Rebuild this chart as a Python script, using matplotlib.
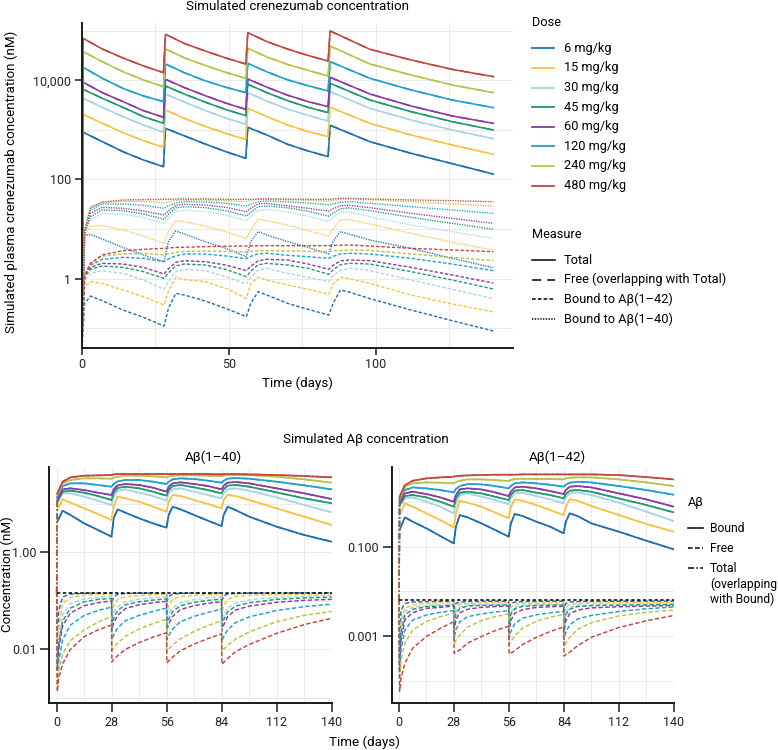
import numpy as np
import matplotlib
matplotlib.use("Agg")
import matplotlib.pyplot as plt
from matplotlib.lines import Line2D
from matplotlib.ticker import FixedLocator, FixedFormatter, NullFormatter

plt.rcParams['font.family'] = ['Roboto', 'DejaVu Sans']

# ---------------- data (log10 of nM) ----------------
doses = ["6 mg/kg", "15 mg/kg", "30 mg/kg", "45 mg/kg", "60 mg/kg",
         "120 mg/kg", "240 mg/kg", "480 mg/kg"]
dose_colors = ["#1f6eb0", "#f6c343", "#a8d5e6", "#1e9a6c", "#8a3aa3",
               "#1ea0cc", "#b7c24a", "#c2463f"]

# top panel: crenezumab
t_total = [0, 0.5, 7, 14, 21, 27.8, 28.5, 35, 42, 49, 55.8, 56.5, 63, 70, 77,
           83.8, 84.5, 98, 112, 126, 140]
cren_total_log10 = [
    [-1.5, 2.951, 2.763, 2.561, 2.393, 2.259, 3.032, 2.877, 2.716, 2.561, 2.427, 3.052, 2.897, 2.71, 2.575, 2.461, 3.092, 2.763, 2.528, 2.32, 2.11],
    [-1.5, 3.314, 3.133, 2.944, 2.783, 2.649, 3.401, 3.23, 3.07, 2.93, 2.81, 3.435, 3.267, 3.1, 2.965, 2.864, 3.455, 3.133, 2.897, 2.696, 2.508],
    [-1.5, 3.637, 3.455, 3.267, 3.099, 2.951, 3.724, 3.56, 3.39, 3.24, 3.112, 3.751, 3.58, 3.42, 3.29, 3.18, 3.771, 3.435, 3.2, 2.998, 2.823],
    [-1.5, 3.818, 3.637, 3.455, 3.267, 3.133, 3.885, 3.72, 3.56, 3.41, 3.287, 3.919, 3.75, 3.59, 3.455, 3.348, 3.939, 3.603, 3.368, 3.166, 2.998],
    [-1.5, 3.959, 3.751, 3.57, 3.388, 3.254, 4.02, 3.85, 3.69, 3.54, 3.415, 4.026, 3.86, 3.7, 3.57, 3.469, 4.06, 3.724, 3.482, 3.281, 3.133],
    [-1.5, 4.262, 4.04, 3.838, 3.684, 3.57, 4.329, 4.15, 3.99, 3.86, 3.751, 4.342, 4.17, 4.01, 3.89, 3.784, 4.376, 4.04, 3.805, 3.603, 3.449],
    [-1.5, 4.577, 4.376, 4.174, 4.006, 3.872, 4.631, 4.45, 4.3, 4.16, 4.04, 4.645, 4.47, 4.32, 4.2, 4.087, 4.692, 4.329, 4.107, 3.906, 3.751],
    [-1.5, 4.846, 4.63, 4.45, 4.29, 4.154, 4.927, 4.74, 4.59, 4.45, 4.329, 4.96, 4.78, 4.63, 4.5, 4.389, 4.994, 4.625, 4.41, 4.22, 4.073],
]

t_bound = [0, 1, 3, 7, 14, 21, 28, 29.5, 32, 35, 42, 49, 56, 57.5, 60, 63, 70, 77,
           84, 85.5, 88, 91, 98, 112, 126, 140]
cren_bound40_log10 = [
    [-1.5, 0.881, 0.89, 0.80, 0.63, 0.478, 0.343, 0.75, 0.962, 0.9, 0.747, 0.612, 0.444, 0.75, 0.948, 0.88, 0.75, 0.63, 0.50, 0.75, 0.948, 0.9, 0.78, 0.612, 0.41, 0.222],
    [-1.5, 0.88, 1.06, 1.07, 0.982, 0.861, 0.713, 0.95, 1.17, 1.15, 1.063, 0.948, 0.814, 0.98, 1.197, 1.17, 1.08, 0.97, 0.86, 1.0, 1.19, 1.19, 1.103, 0.915, 0.733, 0.579],
    [-1.5, 0.915, 1.184, 1.318, 1.298, 1.231, 1.116, 1.22, 1.36, 1.385, 1.352, 1.284, 1.17, 1.26, 1.38, 1.399, 1.34, 1.26, 1.15, 1.24, 1.34, 1.345, 1.25, 1.083, 0.948, 0.814],
    [-1.5, 0.928, 1.251, 1.385, 1.372, 1.305, 1.197, 1.3, 1.43, 1.452, 1.432, 1.372, 1.264, 1.34, 1.45, 1.466, 1.43, 1.36, 1.26, 1.32, 1.41, 1.425, 1.372, 1.237, 1.116, 0.995],
    [-1.5, 0.942, 1.318, 1.439, 1.419, 1.365, 1.284, 1.37, 1.48, 1.499, 1.486, 1.439, 1.352, 1.42, 1.51, 1.52, 1.47, 1.42, 1.36, 1.41, 1.47, 1.479, 1.432, 1.318, 1.217, 1.116],
    [-1.5, 0.948, 1.385, 1.506, 1.506, 1.479, 1.419, 1.47, 1.53, 1.553, 1.546, 1.52, 1.466, 1.5, 1.55, 1.567, 1.55, 1.525, 1.49, 1.51, 1.54, 1.553, 1.52, 1.452, 1.385, 1.318],
    [-1.5, 0.962, 1.419, 1.533, 1.56, 1.56, 1.533, 1.546, 1.58, 1.587, 1.587, 1.573, 1.553, 1.573, 1.6, 1.6, 1.59, 1.58, 1.565, 1.58, 1.6, 1.607, 1.59, 1.553, 1.506, 1.466],
    [-1.5, 0.98, 1.439, 1.546, 1.587, 1.594, 1.6, 1.6, 1.607, 1.607, 1.607, 1.6, 1.6, 1.6, 1.605, 1.61, 1.605, 1.6, 1.6, 1.607, 1.62, 1.62, 1.607, 1.587, 1.573, 1.553],
]
cren_bound42_log10 = [
    [-1.5, -0.497, -0.349, -0.443, -0.631, -0.779, -0.954, -0.6, -0.295, -0.33, -0.45, -0.6, -0.765, -0.5, -0.261, -0.33, -0.497, -0.618, -0.732, -0.5, -0.228, -0.27, -0.402, -0.631, -0.846, -1.054],
    [-1.5, -0.161, -0.06, -0.093, -0.228, -0.362, -0.53, -0.25, 0.028, -0.02, -0.06, -0.194, -0.396, -0.1, 0.028, -0.03, -0.127, -0.214, -0.315, -0.1, 0.028, 0.0, -0.093, -0.329, -0.51, -0.671],
    [-1.5, -0.026, 0.108, 0.16, 0.108, -0.026, -0.214, -0.05, 0.14, 0.189, 0.162, 0.041, -0.107, 0.03, 0.17, 0.209, 0.108, 0.028, -0.06, 0.06, 0.17, 0.209, 0.162, -0.026, -0.214, -0.402],
    [-1.5, 0.041, 0.189, 0.256, 0.229, 0.142, 0.007, 0.12, 0.26, 0.296, 0.276, 0.189, 0.041, 0.15, 0.28, 0.31, 0.276, 0.209, 0.088, 0.18, 0.28, 0.31, 0.296, 0.142, -0.026, -0.208],
    [-1.5, 0.075, 0.229, 0.31, 0.296, 0.229, 0.095, 0.2, 0.33, 0.364, 0.343, 0.276, 0.162, 0.25, 0.36, 0.391, 0.377, 0.296, 0.189, 0.27, 0.36, 0.377, 0.364, 0.229, 0.075, -0.087],
    [-1.5, 0.095, 0.276, 0.39, 0.431, 0.411, 0.343, 0.4, 0.46, 0.498, 0.498, 0.458, 0.404, 0.45, 0.5, 0.512, 0.471, 0.444, 0.411, 0.45, 0.5, 0.512, 0.498, 0.411, 0.296, 0.162],
    [-1.5, 0.108, 0.31, 0.458, 0.498, 0.512, 0.478, 0.5, 0.53, 0.55, 0.559, 0.55, 0.538, 0.55, 0.56, 0.565, 0.559, 0.552, 0.545, 0.56, 0.57, 0.579, 0.572, 0.498, 0.431, 0.364],
    [-1.5, 0.041, 0.31, 0.48, 0.565, 0.592, 0.612, 0.62, 0.63, 0.635, 0.646, 0.655, 0.659, 0.66, 0.665, 0.666, 0.666, 0.666, 0.666, 0.67, 0.675, 0.68, 0.659, 0.612, 0.579, 0.545],
]

# bottom panels: amyloid-beta
t_ab_bound = [0.3, 3, 7, 14, 21, 27.9, 29, 31, 35, 42, 49, 55.9, 57, 59, 63, 70, 77,
              83.9, 85, 87, 91, 98, 112, 126, 140]
t_ab_free = [0, 0.3, 1, 3, 7, 14, 21, 27.9, 28.1, 29, 31, 35, 42, 49, 55.9, 56.1, 57,
             59, 63, 70, 77, 83.9, 84.1, 85, 87, 91, 98, 112, 126, 140]
study_days = [0, 140]
ab40_baseline_log10 = -0.83
ab42_baseline_log10 = -2.2

ab40_bound_log10 = [
    [0.632, 0.858, 0.769, 0.597, 0.46, 0.322, 0.70, 0.886, 0.817, 0.70, 0.597, 0.508, 0.769, 0.941, 0.886, 0.769, 0.652, 0.542, 0.769, 0.941, 0.872, 0.735, 0.528, 0.357, 0.219],
    [0.872, 1.092, 1.023, 0.906, 0.79, 0.666, 0.941, 1.147, 1.113, 1.044, 0.941, 0.838, 1.044, 1.181, 1.161, 1.078, 0.996, 0.906, 1.078, 1.181, 1.161, 1.078, 0.906, 0.735, 0.563],
    [1.01, 1.216, 1.216, 1.147, 1.064, 0.975, 1.147, 1.27, 1.298, 1.229, 1.161, 1.064, 1.216, 1.298, 1.319, 1.25, 1.181, 1.113, 1.216, 1.298, 1.319, 1.27, 1.133, 0.975, 0.824],
    [1.044, 1.25, 1.27, 1.229, 1.161, 1.078, 1.229, 1.326, 1.353, 1.319, 1.25, 1.168, 1.284, 1.367, 1.388, 1.339, 1.284, 1.216, 1.298, 1.374, 1.388, 1.353, 1.236, 1.113, 1.01],
    [1.078, 1.298, 1.319, 1.284, 1.229, 1.181, 1.298, 1.381, 1.408, 1.388, 1.333, 1.25, 1.353, 1.422, 1.443, 1.408, 1.367, 1.298, 1.374, 1.436, 1.449, 1.422, 1.319, 1.216, 1.099],
    [1.147, 1.367, 1.422, 1.422, 1.388, 1.353, 1.408, 1.463, 1.491, 1.491, 1.456, 1.408, 1.456, 1.504, 1.525, 1.511, 1.477, 1.436, 1.477, 1.518, 1.532, 1.518, 1.456, 1.381, 1.298],
    [1.181, 1.422, 1.491, 1.525, 1.525, 1.518, 1.539, 1.559, 1.58, 1.58, 1.566, 1.546, 1.566, 1.58, 1.587, 1.587, 1.58, 1.573, 1.587, 1.594, 1.594, 1.594, 1.559, 1.504, 1.436],
    [1.216, 1.456, 1.546, 1.58, 1.587, 1.594, 1.607, 1.614, 1.614, 1.614, 1.614, 1.614, 1.614, 1.614, 1.614, 1.614, 1.614, 1.607, 1.614, 1.614, 1.614, 1.607, 1.594, 1.573, 1.546],
]
ab40_free_log10 = [
    [-0.83, -1.9, -1.2, -0.92, -0.86, -0.845, -0.84, -0.838, -1.05, -0.92, -0.865, -0.85, -0.842, -0.84, -0.838, -1.02, -0.91, -0.862, -0.848, -0.842, -0.84, -0.838, -1.0, -0.9, -0.86, -0.847, -0.842, -0.839, -0.837, -0.836],
    [-0.83, -2.1, -1.55, -1.05, -0.93, -0.885, -0.868, -0.86, -1.25, -1.1, -0.97, -0.915, -0.89, -0.877, -0.868, -1.24, -1.1, -0.97, -0.91, -0.885, -0.873, -0.866, -1.24, -1.1, -0.97, -0.91, -0.885, -0.87, -0.863, -0.86],
    [-0.83, -2.25, -1.75, -1.3, -1.06, -0.96, -0.925, -0.905, -1.38, -1.25, -1.12, -1.02, -0.965, -0.935, -0.915, -1.38, -1.27, -1.14, -1.04, -0.975, -0.94, -0.92, -1.39, -1.28, -1.15, -1.05, -0.98, -0.925, -0.905, -0.895],
    [-0.83, -2.35, -1.9, -1.42, -1.15, -1.02, -0.97, -0.95, -1.5, -1.36, -1.2, -1.08, -1.02, -0.985, -0.96, -1.5, -1.38, -1.22, -1.1, -1.03, -0.99, -0.965, -1.52, -1.39, -1.23, -1.11, -1.04, -0.97, -0.94, -0.925],
    [-0.83, -2.45, -2.0, -1.52, -1.25, -1.1, -1.04, -1.0, -1.6, -1.46, -1.3, -1.16, -1.08, -1.04, -1.01, -1.6, -1.48, -1.32, -1.18, -1.1, -1.05, -1.02, -1.62, -1.5, -1.33, -1.19, -1.11, -1.03, -0.99, -0.97],
    [-0.83, -2.6, -2.25, -1.8, -1.5, -1.3, -1.2, -1.13, -1.8, -1.7, -1.56, -1.41, -1.3, -1.22, -1.15, -1.8, -1.72, -1.58, -1.43, -1.32, -1.24, -1.17, -1.82, -1.74, -1.6, -1.45, -1.33, -1.2, -1.12, -1.07],
    [-0.83, -2.75, -2.45, -2.1, -1.82, -1.6, -1.44, -1.32, -2.02, -1.96, -1.87, -1.73, -1.58, -1.47, -1.38, -2.04, -1.99, -1.91, -1.78, -1.63, -1.51, -1.41, -2.05, -2.0, -1.92, -1.79, -1.64, -1.43, -1.3, -1.22],
    [-0.83, -2.87, -2.6, -2.3, -2.0, -1.74, -1.6, -1.5, -2.26, -2.21, -2.13, -2.0, -1.86, -1.75, -1.66, -2.28, -2.24, -2.16, -2.03, -1.89, -1.78, -1.68, -2.31, -2.27, -2.19, -2.05, -1.9, -1.67, -1.49, -1.36],
]
ab42_bound_log10 = [
    [-0.626, -0.343, -0.44, -0.589, -0.761, -0.925, -0.552, -0.291, -0.343, -0.477, -0.626, -0.776, -0.477, -0.269, -0.313, -0.44, -0.552, -0.701, -0.44, -0.254, -0.313, -0.477, -0.664, -0.865, -1.059],
    [-0.291, -0.03, -0.104, -0.254, -0.403, -0.567, -0.254, 0.03, -0.015, -0.104, -0.239, -0.365, -0.104, 0.06, 0.03, -0.067, -0.179, -0.291, -0.104, 0.06, 0.03, -0.089, -0.291, -0.492, -0.664],
    [-0.104, 0.082, 0.104, 0.007, -0.104, -0.254, -0.03, 0.157, 0.194, 0.119, 0.045, -0.052, 0.082, 0.194, 0.209, 0.134, 0.06, -0.03, 0.104, 0.194, 0.216, 0.157, -0.015, -0.216, -0.425],
    [-0.067, 0.134, 0.157, 0.104, 0.007, -0.104, 0.082, 0.209, 0.231, 0.194, 0.119, 0.045, 0.157, 0.254, 0.269, 0.209, 0.157, 0.082, 0.179, 0.254, 0.269, 0.231, 0.082, -0.067, -0.231],
    [-0.03, 0.194, 0.231, 0.179, 0.104, 0.007, 0.157, 0.283, 0.306, 0.283, 0.216, 0.134, 0.231, 0.328, 0.343, 0.306, 0.246, 0.179, 0.269, 0.343, 0.358, 0.328, 0.194, 0.06, -0.104],
    [0.045, 0.269, 0.328, 0.306, 0.269, 0.216, 0.291, 0.358, 0.403, 0.395, 0.358, 0.306, 0.358, 0.418, 0.44, 0.418, 0.388, 0.343, 0.388, 0.433, 0.455, 0.44, 0.358, 0.269, 0.164],
    [0.082, 0.343, 0.418, 0.44, 0.433, 0.418, 0.447, 0.477, 0.507, 0.507, 0.492, 0.47, 0.492, 0.515, 0.522, 0.515, 0.515, 0.507, 0.53, 0.545, 0.552, 0.552, 0.507, 0.44, 0.358],
    [0.119, 0.38, 0.477, 0.53, 0.552, 0.567, 0.582, 0.589, 0.597, 0.604, 0.612, 0.612, 0.612, 0.612, 0.619, 0.619, 0.619, 0.619, 0.619, 0.619, 0.619, 0.619, 0.604, 0.559, 0.507],
]
ab42_free_log10 = [
    [-2.2, -3.5, -2.42, -2.27, -2.24, -2.23, -2.225, -2.22, -2.38, -2.27, -2.24, -2.23, -2.225, -2.222, -2.22, -2.37, -2.27, -2.24, -2.23, -2.225, -2.222, -2.22, -2.37, -2.27, -2.24, -2.23, -2.225, -2.222, -2.22, -2.22],
    [-2.2, -3.54, -2.64, -2.38, -2.305, -2.268, -2.26, -2.255, -2.566, -2.357, -2.283, -2.27, -2.262, -2.258, -2.255, -2.57, -2.36, -2.285, -2.27, -2.262, -2.258, -2.255, -2.58, -2.37, -2.29, -2.272, -2.262, -2.256, -2.253, -2.25],
    [-2.2, -3.61, -2.827, -2.454, -2.357, -2.312, -2.3, -2.29, -2.715, -2.454, -2.342, -2.305, -2.298, -2.293, -2.29, -2.72, -2.46, -2.35, -2.31, -2.3, -2.294, -2.29, -2.73, -2.47, -2.36, -2.315, -2.302, -2.292, -2.285, -2.28],
    [-2.2, -3.685, -2.939, -2.529, -2.402, -2.342, -2.33, -2.305, -2.805, -2.506, -2.38, -2.327, -2.315, -2.31, -2.305, -2.81, -2.51, -2.39, -2.335, -2.318, -2.31, -2.306, -2.82, -2.52, -2.4, -2.34, -2.32, -2.31, -2.302, -2.295],
    [-2.2, -3.796, -3.088, -2.64, -2.476, -2.38, -2.36, -2.327, -2.902, -2.64, -2.476, -2.402, -2.357, -2.34, -2.33, -2.91, -2.65, -2.49, -2.41, -2.36, -2.345, -2.335, -2.92, -2.66, -2.5, -2.42, -2.37, -2.345, -2.33, -2.32],
    [-2.2, -3.834, -3.31, -2.864, -2.64, -2.529, -2.47, -2.432, -3.05, -2.864, -2.678, -2.566, -2.506, -2.461, -2.435, -3.07, -2.9, -2.72, -2.6, -2.525, -2.48, -2.45, -3.08, -2.92, -2.75, -2.62, -2.54, -2.45, -2.39, -2.35],
    [-2.2, -3.98, -3.535, -3.162, -2.864, -2.678, -2.566, -2.491, -3.177, -3.1, -2.976, -2.8, -2.655, -2.566, -2.506, -3.2, -3.12, -3.0, -2.82, -2.67, -2.58, -2.52, -3.24, -3.16, -3.03, -2.85, -2.7, -2.55, -2.47, -2.42],
    [-2.2, -4.24, -3.95, -3.61, -3.27, -3.01, -2.83, -2.68, -3.39, -3.36, -3.31, -3.16, -3.01, -2.88, -2.78, -3.40, -3.38, -3.33, -3.19, -3.03, -2.9, -2.8, -3.45, -3.42, -3.36, -3.22, -3.03, -2.81, -2.66, -2.54],
]

# ---------------- styles ----------------
LS_FREE_TOP = (0, (6, 4))
LS_B42 = (0, (2.4, 1.4))
LS_B40 = (0, (0.9, 0.9))
LS_FREE_AB = (0, (3.0, 1.6))
LS_TOTAL_AB = (0, (4, 1.5, 1, 1.5))
GRID = "#ebebeb"
AXC = "#1a1a1a"
FS = 9.6
FS_LEG = 9.2

W, H = 778, 750
fig = plt.figure(figsize=(W / 100, H / 100), dpi=100)


def fx(px):
    return px / W


def fy(py):
    return 1 - py / H


def add_ax(l, t, r, b):
    return fig.add_axes([fx(l), fy(b), (r - l) / W, (b - t) / H])


def style(ax, xlim, ylog, xmaj, xmin, ymaj, ylab, ymin):
    ax.set_yscale('log')
    ax.set_xlim(*xlim)
    ax.set_ylim(10 ** ylog[0], 10 ** ylog[1])
    for s in ['top', 'right']:
        ax.spines[s].set_visible(False)
    for s in ['left', 'bottom']:
        ax.spines[s].set_linewidth(1.4)
        ax.spines[s].set_color(AXC)
    ax.xaxis.set_major_locator(FixedLocator(xmaj))
    ax.xaxis.set_minor_locator(FixedLocator(xmin))
    ax.yaxis.set_major_locator(FixedLocator(ymaj))
    ax.yaxis.set_major_formatter(FixedFormatter(ylab))
    ax.yaxis.set_minor_locator(FixedLocator(ymin))
    ax.yaxis.set_minor_formatter(NullFormatter())
    ax.grid(True, which='both', color=GRID, lw=0.7)
    ax.tick_params(which='minor', length=0)
    ax.tick_params(which='major', length=5, width=1.1, color=AXC,
                   labelsize=9.0, pad=2.5, labelcolor="#222222")
    ax.set_axisbelow(True)


def L(arr):
    return 10 ** np.asarray(arr, dtype=float)


# ---------------- top panel ----------------
ax = add_ax(81.7, 22.7, 513, 347.7)
style(ax, (0, 146.7), (-1.391, 5.161), [0, 50, 100], [25, 75, 125],
      [1, 100, 10000], ["1", "100", "10,000"], [0.1, 10, 1000, 100000])
for i in range(8):
    ax.plot(t_bound, L(cren_bound40_log10[i]), color=dose_colors[i], lw=1.0, ls=LS_B40)
for i in range(8):
    ax.plot(t_bound, L(cren_bound42_log10[i]), color=dose_colors[i], lw=1.0, ls=LS_B42)
for i in range(8):
    ax.plot(t_total, L(cren_total_log10[i]), color=dose_colors[i], lw=1.1, ls=LS_FREE_TOP)
    ax.plot(t_total, L(cren_total_log10[i]), color=dose_colors[i], lw=1.15, ls='-')

fig.text(fx(297), fy(6.5), "Simulated crenezumab concentration", ha='center', va='center', fontsize=FS)
fig.text(fx(11), fy(182), "Simulated plasma crenezumab concentration (nM)", ha='center', va='center',
         rotation=90, fontsize=FS)
fig.text(fx(297), fy(383), "Time (days)", ha='center', va='center', fontsize=FS)

# top legends
fig.text(fx(532), fy(22.5), "Dose", ha='left', va='center', fontsize=FS_LEG)
for i, lab in enumerate(doses):
    yy = 48.3 + 19.6 * i
    fig.add_artist(Line2D([fx(532), fx(554)], [fy(yy), fy(yy)], color=dose_colors[i], lw=1.3))
    fig.text(fx(563.5), fy(yy), lab, ha='left', va='center', fontsize=FS_LEG)

fig.text(fx(532), fy(234.5), "Measure", ha='left', va='center', fontsize=FS_LEG)
meas = [("Total", '-'), ("Free (overlapping with Total)", LS_FREE_TOP),
        ("Bound to A\u03b2(1\u201342)", LS_B42), ("Bound to A\u03b2(1\u201340)", LS_B40)]
for i, (lab, ls) in enumerate(meas):
    yy = 260 + 19.7 * i
    fig.add_artist(Line2D([fx(532), fx(555)], [fy(yy), fy(yy)], color='black', lw=1.1, ls=ls))
    fig.text(fx(563.5), fy(yy), lab, ha='left', va='center', fontsize=FS_LEG)

# ---------------- bottom panels ----------------
panels = [
    (49.3, 332.3, (-3.77, 140.3), (-3.113, 1.753), [0.01, 1], ["0.01", "1.00"],
     [0.001, 0.1, 10], ab40_bound_log10, ab40_free_log10, ab40_baseline_log10),
    (391.7, 674.3, (-3.72, 140.3), (-4.507, 0.778), [0.001, 0.1], ["0.001", "0.100"],
     [0.0001, 0.01, 1], ab42_bound_log10, ab42_free_log10, ab42_baseline_log10),
]
for (l, r, xl, yl, ymaj, ylab, ymin, bound, free, base) in panels:
    ax = add_ax(l, 467.3, r, 703.3)
    style(ax, xl, yl, [0, 28, 56, 84, 112, 140], [14, 42, 70, 98, 126],
          ymaj, ylab, ymin)
    ax.tick_params(which='major', length=6.5)
    for i in range(8):
        ax.plot(t_ab_free, L(free[i]), color=dose_colors[i], lw=1.05, ls=LS_FREE_AB)
    for i in range(8):
        ax.plot([0] + t_ab_bound, L([base] + bound[i]), color=dose_colors[i], lw=1.1, ls=LS_TOTAL_AB)
        ax.plot(t_ab_bound, L(bound[i]), color=dose_colors[i], lw=1.25, ls='-')
    ax.plot(study_days, L([base, base]), color='black', lw=1.1, ls=(0, (2.2, 1.6)), zorder=5)

fig.text(fx(366), fy(439.3), "Simulated A\u03b2 concentration", ha='center', va='center', fontsize=FS)
fig.text(fx(213), fy(457.7), "A\u03b2(1\u201340)", ha='center', va='center', fontsize=FS)
fig.text(fx(557), fy(457.7), "A\u03b2(1\u201342)", ha='center', va='center', fontsize=FS)
fig.text(fx(364), fy(742.3), "Time (days)", ha='center', va='center', fontsize=FS)
fig.text(fx(7), fy(574), "Concentration (nM)", ha='center', va='center', rotation=90, fontsize=FS)

FS_AB = 8.7
fig.text(fx(688), fy(502.7), "A\u03b2", ha='left', va='center', fontsize=FS_LEG)
ab_leg = [("Bound", '-', 528.3), ("Free", LS_FREE_AB, 548.3), ("Total", LS_TOTAL_AB, 568)]
for lab, ls, yy in ab_leg:
    fig.add_artist(Line2D([fx(688), fx(703)], [fy(yy), fy(yy)], color='black', lw=1.1, ls=ls))
    fig.text(fx(710), fy(yy), lab, ha='left', va='center', fontsize=FS_AB)
fig.text(fx(710), fy(584.7), "(overlapping", ha='left', va='center', fontsize=FS_AB)
fig.text(fx(710), fy(599.3), "with Bound)", ha='left', va='center', fontsize=FS_AB)

fig.savefig("out.png", dpi=100)
